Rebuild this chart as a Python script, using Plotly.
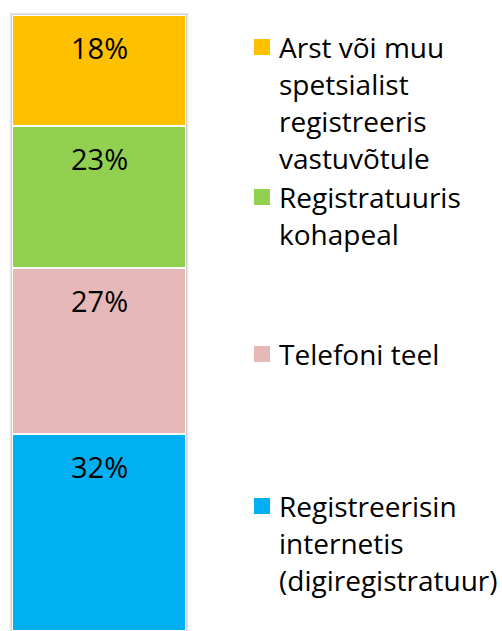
import plotly.graph_objects as go

# Data (bottom to top of the stacked bar)
categories = ["Vastus"]
series_names = [
    "Registreerisin internetis (digiregistratuur)",
    "Telefoni teel",
    "Registratuuris kohapeal",
    "Arst või muu spetsialist registreeris vastuvõtule",
]
series_values = [32, 27, 23, 18]
series_colors = ["#00B0F0", "#E6B9B8", "#92D050", "#FFC000"]
# legend lines, as wrapped in the original
legend_lines = [
    ["Registreerisin", "internetis", "(digiregistratuur)"],
    ["Telefoni teel"],
    ["Registratuuris", "kohapeal"],
    ["Arst või muu", "spetsialist", "registreeris", "vastuvõtule"],
]

W, H = 502, 631
FONT = "Open Sans"
FS_LEG = 28
FS_LBL = 29

fig = go.Figure()
for name, val, col in zip(series_names, series_values, series_colors):
    fig.add_trace(go.Bar(
        x=categories, y=[val], name=name,
        marker=dict(color=col, line=dict(color="white", width=2)),
        showlegend=False, hoverinfo="skip",
    ))

# percent labels at the top of each segment
cum = 0
for val in series_values:
    cum += val
    fig.add_annotation(
        x=categories[0], y=cum, xref="x", yref="y",
        text=f"{val}%", showarrow=False, yanchor="middle", yshift=-33,
        font=dict(family=FONT, size=FS_LBL, color="black"),
    )

def px_x(v):
    return v / W
def px_y(v):
    return 1 - v / H

# soft shadow behind the bar
for i, op in enumerate([0.10, 0.06, 0.03]):
    d = i + 1
    fig.add_shape(type="rect", xref="paper", yref="paper", layer="below",
                  x0=px_x(12 - d), x1=px_x(186 + d), y0=px_y(631 + 5), y1=px_y(15 - d),
                  fillcolor="rgba(0,0,0,%.2f)" % op, line=dict(width=0))

# legend (manually placed to mimic the spread-out layout)
first_line_y = [506, 354, 197, 47]
line_gap = 37
for lines, col, y0 in zip(legend_lines, series_colors, first_line_y):
    fig.add_shape(type="rect", xref="paper", yref="paper",
                  x0=px_x(254), x1=px_x(270), y0=px_y(y0 + 8), y1=px_y(y0 - 8),
                  fillcolor=col, line=dict(width=0))
    for k, t in enumerate(lines):
        fig.add_annotation(
            x=px_x(277), y=px_y(y0 + k * line_gap), xref="paper", yref="paper",
            text=t, showarrow=False, xanchor="left", yanchor="middle",
            font=dict(family=FONT, size=FS_LEG, color="black"),
        )

fig.update_layout(
    barmode="stack", bargap=0,
    width=W, height=H,
    margin=dict(l=0, r=0, t=0, b=0),
    paper_bgcolor="white", plot_bgcolor="rgba(0,0,0,0)",
    xaxis=dict(domain=[12 / W, 186 / W], range=[-0.5, 0.5], visible=False, fixedrange=True),
    yaxis=dict(domain=[0, (H - 15) / H], range=[0, 100], visible=False, fixedrange=True),
    font=dict(family=FONT),
)

fig.write_html(
    "out.html",
    config={"displayModeBar": False},
    post_script="document.body.style.margin='0';document.body.style.overflow='hidden';",
)
